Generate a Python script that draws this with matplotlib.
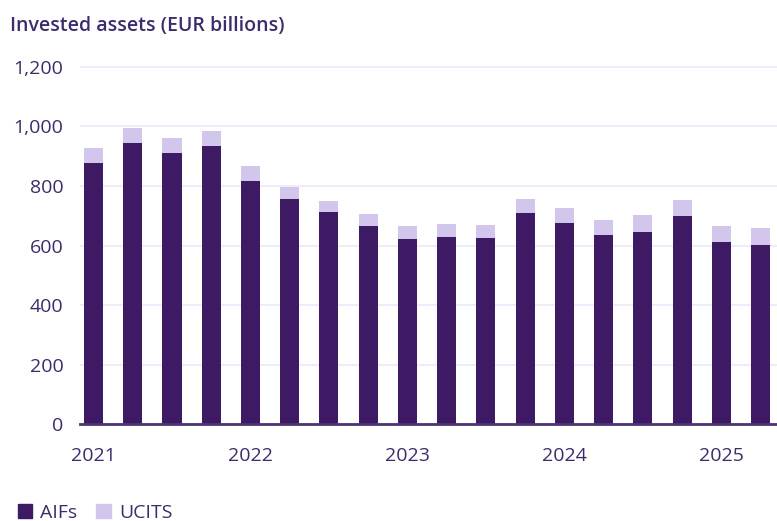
import numpy as np
import matplotlib.pyplot as plt
from matplotlib.patches import Patch

# Quarterly invested assets, EUR billions (2021 Q1 - 2025 Q2)
quarters = ["2021Q1", "2021Q2", "2021Q3", "2021Q4",
            "2022Q1", "2022Q2", "2022Q3", "2022Q4",
            "2023Q1", "2023Q2", "2023Q3", "2023Q4",
            "2024Q1", "2024Q2", "2024Q3", "2024Q4",
            "2025Q1", "2025Q2"]
aifs = [878, 944, 910, 935, 817, 756, 712, 666, 623,
        630, 626, 709, 676, 636, 646, 700, 612, 602]
ucits = [49, 50, 50, 49, 50, 41, 37, 40, 43,
         43, 43, 47, 50, 50, 57, 53, 54, 57]
year_ticks = [0, 4, 8, 12, 16]
year_labels = ["2021", "2022", "2023", "2024", "2025"]

dark = "#3d1a63"
light = "#d3c6ec"
grid_col = "#ece8fb"
text_col = "#3f2b6b"

plt.rcParams['font.family'] = ['Open Sans', 'DejaVu Sans']

fig = plt.figure(figsize=(7.77, 5.21), dpi=100)
ax = fig.add_axes([0.103, 0.1856, 0.897, 0.7035])

x = np.arange(len(quarters))
ax.bar(x, aifs, width=0.485, color=dark, zorder=3)
ax.bar(x, ucits, width=0.485, bottom=aifs, color=light, zorder=3)

ax.set_ylim(0, 1230)
ax.set_xlim(-0.344, 17.42)
ax.set_yticks(range(0, 1201, 200))
ax.set_yticklabels([f"{v:,}" for v in range(0, 1201, 200)])
ax.set_xticks(year_ticks)
ax.set_xticklabels(year_labels)
ax.tick_params(axis='both', length=0, labelsize=14, colors=text_col)
ax.tick_params(axis='y', pad=12)
ax.tick_params(axis='x', pad=16)

ax.yaxis.grid(True, color=grid_col, lw=1.2, zorder=0)
for side in ["top", "right", "left"]:
    ax.spines[side].set_visible(False)
ax.spines["bottom"].set_color("#4a3572")
ax.spines["bottom"].set_linewidth(2)
ax.spines["bottom"].set_zorder(4)

fig.text(0.013, 0.95, "Invested assets (EUR billions)", fontsize=14,
         fontweight='semibold', color=text_col, va='center', ha='left')

handles = [Patch(color=dark, label="AIFs"), Patch(color=light, label="UCITS")]
fig.legend(handles=handles, loc='lower left', bbox_to_anchor=(0.0, -0.035),
           ncol=2, frameon=False, fontsize=14, handlelength=0.75,
           handleheight=0.75, handletextpad=0.4, columnspacing=1.0,
           labelcolor=text_col)

fig.savefig("out.png", dpi=100)
